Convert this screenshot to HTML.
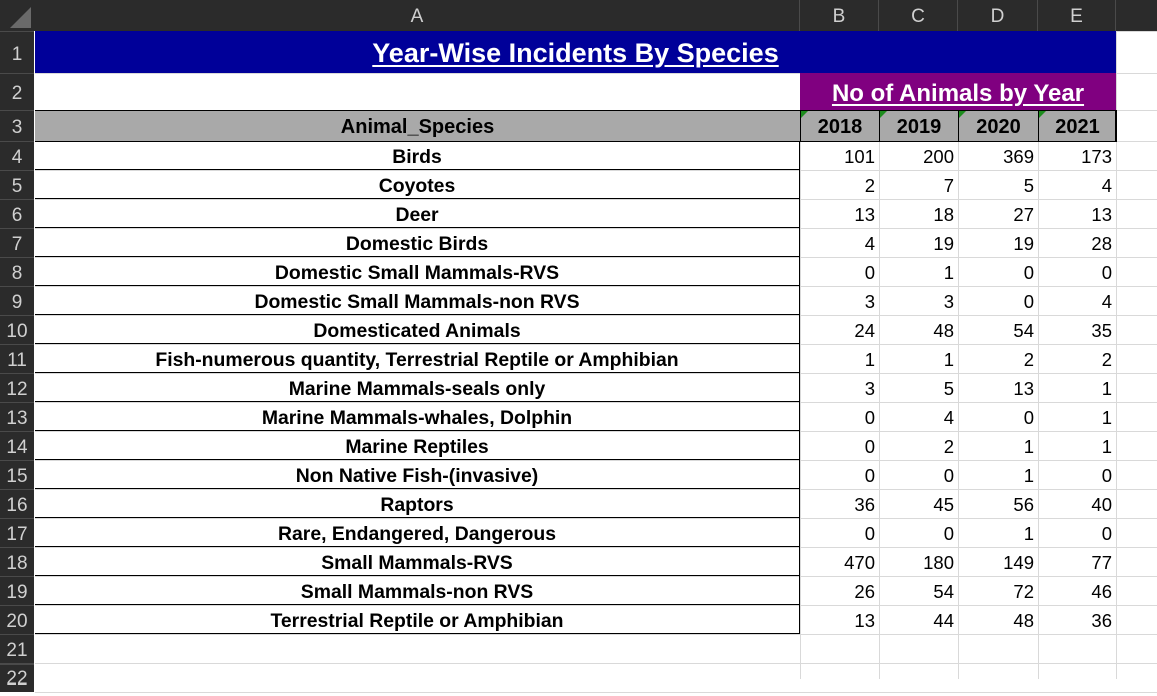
<!DOCTYPE html>
<html><head><meta charset="utf-8">
<style>
body{margin:0;width:1157px;height:679px;overflow:hidden;background:#fff;font-family:"Liberation Sans",sans-serif;position:relative}
.a{position:absolute;box-sizing:border-box}
.hdr{background:#2b2b2b;color:#d0d0d0;font-size:19px;text-align:center}
.cell{font-weight:bold;font-size:19.4px;color:#000;white-space:nowrap;overflow:visible}
.num{font-size:18.5px;color:#000;text-align:right;padding-right:4px}
</style></head><body>
<div class="a hdr" style="left:0;top:0;width:1157px;height:31px"></div>
<div class="a hdr" style="left:0;top:0;width:34px;height:679px"></div>
<svg class="a" style="left:0;top:0" width="34" height="31"><polygon points="10,28 31,28 31,7" fill="#6a6a6a"/></svg>
<div id="grid"></div>
<div class="a" style="left:35px;top:31px;width:1081px;height:42px;background:#000099;color:#fff;font-weight:bold;font-size:27px;text-align:center;line-height:45px"><span style="text-decoration:underline;text-underline-offset:3px">Year-Wise Incidents By Species</span></div>
<div class="a" style="left:800px;top:73px;width:316px;height:37px;background:#800080;color:#fff;font-weight:bold;font-size:24px;text-align:center;line-height:41px"><span style="text-decoration:underline;text-underline-offset:3px">No of Animals by Year</span></div>
<div class="a" style="left:35px;top:110px;width:1081px;height:32px;background:#a9a9a9;border-top:1.5px solid #000;border-bottom:1.5px solid #000"></div>
<div class="a cell" style="left:35px;top:110px;width:765px;height:32px;line-height:35px;text-align:center;font-size:20px">Animal_Species</div>
<div id="tbl"></div>
<script>
const years=["2018","2019","2020","2021"];
const species=["Birds","Coyotes","Deer","Domestic Birds","Domestic Small Mammals-RVS","Domestic Small Mammals-non RVS","Domesticated Animals","Fish-numerous quantity, Terrestrial Reptile or Amphibian","Marine Mammals-seals only","Marine Mammals-whales, Dolphin","Marine Reptiles","Non Native Fish-(invasive)","Raptors","Rare, Endangered, Dangerous","Small Mammals-RVS","Small Mammals-non RVS","Terrestrial Reptile or Amphibian"];
const v2018=[101,2,13,4,0,3,24,1,3,0,0,0,36,0,470,26,13];
const v2019=[200,7,18,19,1,3,48,1,5,4,2,0,45,0,180,54,44];
const v2020=[369,5,27,19,0,0,54,2,13,0,1,1,56,1,149,72,48];
const v2021=[173,4,13,28,0,4,35,2,1,1,1,0,40,0,77,46,36];
const series=[v2018,v2019,v2020,v2021];
const colX=[35,800,879,958,1038,1116],colL=["A","B","C","D","E"];
const rowY=[31,73,110,141];for(let i=0;i<19;i++)rowY.push(141+29*(i+1));
const g=document.getElementById('grid'),t=document.getElementById('tbl');
function mk(p,css,cls,txt){const d=document.createElement('div');d.className='a '+(cls||'');d.style.cssText=css;if(txt!=null)d.textContent=txt;p.appendChild(d);return d;}
for(let c=1;c<colX.length;c++){const d=mk(g,`left:${colX[c]}px;top:31px;width:1px;height:648px;background:#d9d9d9`);

}
for(let r=0;r<rowY.length;r++){const d=mk(g,`left:35px;top:${rowY[r]}px;width:1122px;height:1px;background:#d9d9d9`);

}
for(let c=0;c<5;c++){const d=mk(g,`left:${colX[c]}px;top:0;width:${colX[c+1]-colX[c]}px;height:31px;line-height:34px;border-right:1px solid #4a4a4a`,'hdr',colL[c]);

}
for(let r=0;r<rowY.length-1;r++){const h=rowY[r+1]-rowY[r];const d=mk(g,`left:0;top:${rowY[r]}px;width:34px;height:${h}px;line-height:${h+3}px;border-top:1px solid #4a4a4a`,'hdr',String(r+1));

}
mk(g,`left:0;top:664px;width:34px;height:20px;line-height:28px;border-top:1px solid #4a4a4a`,'hdr','22');
years.forEach((y,i)=>{const d=mk(t,`left:${colX[i+1]}px;top:110px;width:${colX[i+2]-colX[i+1]}px;height:32px;line-height:35px;text-align:center;border-left:1.5px solid #000;font-size:20px`,'cell',y);


const tri=mk(t,`left:${colX[i+1]+1}px;top:111px;width:0;height:0;border-top:7px solid #1e8c1e;border-right:7px solid transparent`);

});
mk(t,'left:1115px;top:110px;width:1.5px;height:32px;background:#000');
species.forEach((s,r)=>{const top=141+29*r;
const d=mk(t,`left:35px;top:${top}px;width:765px;height:29px;line-height:32px;text-align:center;border-bottom:1.5px solid #000;border-right:1.5px solid #000`,'cell',s);


series.forEach((arr,i)=>{const n=mk(t,`left:${colX[i+1]}px;top:${top}px;width:${colX[i+2]-colX[i+1]}px;height:29px;line-height:32px`,'num',String(arr[r]));

});});
</script>
</body></html>
